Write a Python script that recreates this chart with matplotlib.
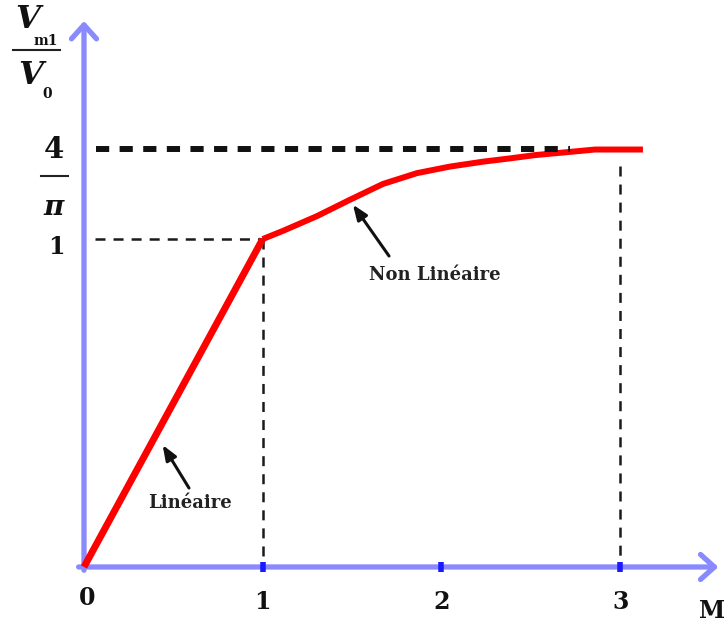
import numpy as np
import matplotlib.pyplot as plt
from matplotlib.lines import Line2D

# fundamental amplitude ratio vs modulation index
m_lin = [0.0, 1.0]
v_lin = [0.0, 1.0]
m_nl = [1.0, 1.114, 1.304, 1.489, 1.673, 1.863, 2.048, 2.233, 2.384, 2.524, 2.664, 2.860, 3.128]
v_nl = [1.0, 1.025, 1.070, 1.120, 1.168, 1.201, 1.221, 1.236, 1.246, 1.256, 1.263, 1.273, 1.273]
v_max = 4 / np.pi

x_ticks = [1, 2, 3]
x_labels = ['0', '1', '2', '3']

AXIS_C = '#8a8aff'
TICK_C = '#1a1aff'
FONT = 'DejaVu Serif'

plt.rcParams['lines.scale_dashes'] = False

fig = plt.figure(figsize=(7.28, 6.26), dpi=100)
ax = fig.add_axes([0, 0, 1, 1])
ax.set_xlim(-0.470, 3.604)
ax.set_ylim(-0.180, 1.729)
ax.axis('off')

# axes with arrow heads
head = dict(arrowstyle='->,head_length=0.5,head_width=0.45',
            color=AXIS_C, lw=3.8, mutation_scale=20, shrinkA=0, shrinkB=0)
ax.annotate('', xy=(3.55, 0), xytext=(-0.03, 0), arrowprops=head, zorder=2)
ax.annotate('', xy=(0, 1.665), xytext=(0, -0.01), arrowprops=head, zorder=2)
ax.plot(x_ticks, [0] * len(x_ticks), linestyle='none', marker='|',
        markersize=7, markeredgewidth=4, color=TICK_C, zorder=3)

# guide lines
thin = dict(color='#1a1a1a', lw=1.8, dashes=(7.2, 5.8), zorder=1)
ax.plot([0.06, 1.0], [1.0, 1.0], **thin)
ax.plot([1.0, 1.0], [1.0, 0.0], **thin)
ax.plot([3.0, 3.0], [v_max - 0.05, 0.0], **thin)
ax.plot([0.07, 2.72], [v_max, v_max], color='#111111', lw=4.3,
        dashes=(9.5, 7.5), zorder=5)

# curve
ax.plot(m_lin, v_lin, color='#ff0000', lw=5, solid_capstyle='butt', zorder=4)
ax.plot(m_nl, v_nl, color='#ff0000', lw=4.3, solid_capstyle='butt',
        solid_joinstyle='round', zorder=4)

# annotations
arrow_kw = dict(arrowstyle='-|>,head_length=0.9,head_width=0.35',
                color='#111111', lw=2.2, shrinkA=0, shrinkB=0)
note_kw = dict(textcoords='offset points', ha='center', va='center',
               fontsize=13, fontweight='bold', family=FONT, color='#222222')
ax.annotate('', xy=(0.44, 0.372), xytext=(19, -31), textcoords='offset points',
            arrowprops=arrow_kw, zorder=6)
ax.annotate('Linéaire', xy=(0.44, 0.372), xytext=(20, -42), **note_kw)
ax.annotate('', xy=(1.505, 1.105), xytext=(26, -37), textcoords='offset points',
            arrowprops=arrow_kw, zorder=6)
ax.annotate('Non Linéaire', xy=(1.505, 1.105), xytext=(59, -51), **note_kw)

# tick labels
tick_kw = dict(textcoords='offset points', ha='center', va='center',
               fontsize=17, fontweight='bold', family=FONT, color='#111111')
ax.annotate(x_labels[0], xy=(0.02, 0), xytext=(0, -22), **tick_kw)
for xv, lab in zip(x_ticks, x_labels[1:]):
    ax.annotate(lab, xy=(xv, 0), xytext=(0, -25), **tick_kw)
ax.annotate('M', xy=(3.514, 0), xytext=(0, -32), **tick_kw)

ax.annotate('1', xy=(-0.157, 1.0), xytext=(0, -6), **tick_kw)
ax.annotate('4', xy=(-0.168, v_max), xytext=(0, 0), **dict(tick_kw, fontsize=21))
ax.annotate('π', xy=(-0.168, v_max), xytext=(0, -42),
            **dict(tick_kw, fontsize=20, fontstyle='italic'))
ax.plot([-0.24, -0.09], [v_max - 27 / 328, v_max - 27 / 328],
        color='#222222', lw=1.5)


# y quantity label as a stacked fraction, placed in figure pixels from the top
def px(x, y):
    return x / 728, 1 - y / 626


fig.text(*px(28, 19), 'V', ha='center', va='center', fontsize=23,
         fontweight='bold', fontstyle='italic', family=FONT, color='#111111')
fig.text(*px(46, 41), 'm1', ha='center', va='center', fontsize=10,
         fontweight='bold', family=FONT, color='#111111')
fig.add_artist(Line2D([13 / 728, 60 / 728], [1 - 50 / 626, 1 - 50 / 626],
                      color='#222222', lw=1.5))
fig.text(*px(31, 76), 'V', ha='center', va='center', fontsize=23,
         fontweight='bold', fontstyle='italic', family=FONT, color='#111111')
fig.text(*px(47, 94), '0', ha='center', va='center', fontsize=10,
         fontweight='bold', family=FONT, color='#111111')

fig.savefig('out.png', dpi=100, facecolor='white')
